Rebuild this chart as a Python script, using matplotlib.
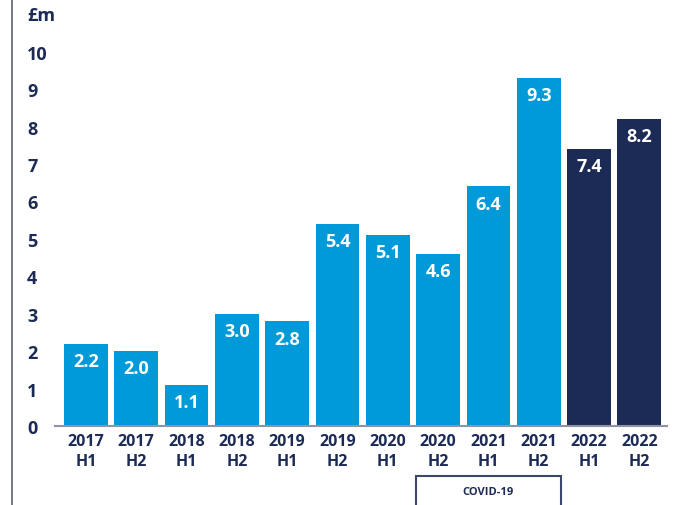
import matplotlib.pyplot as plt
from matplotlib.patches import Rectangle
import matplotlib.transforms as mtransforms

# данные
periods = ['2017\nH1', '2017\nH2', '2018\nH1', '2018\nH2', '2019\nH1', '2019\nH2',
           '2020\nH1', '2020\nH2', '2021\nH1', '2021\nH2', '2022\nH1', '2022\nH2']
values = [2.2, 2.0, 1.1, 3.0, 2.8, 5.4, 5.1, 4.6, 6.4, 9.3, 7.4, 8.2]
yticks = [0, 1, 2, 3, 4, 5, 6, 7, 8, 9, 10]

blue = '#009ad8'
navy = '#1c2a56'
colors = [blue] * 10 + [navy] * 2

plt.rcParams['font.family'] = ['Open Sans', 'DejaVu Sans']
plt.rcParams['font.weight'] = 'bold'

fig = plt.figure(figsize=(6.75, 5.06), dpi=100)
ax = fig.add_axes([55 / 675, 79 / 506, 612 / 675, (506 - 79 - 34) / 506])

x = list(range(len(values)))
bars = ax.bar(x, values, width=0.87, color=colors, zorder=2)

for b, v in zip(bars, values):
    ax.annotate(f'{v:.1f}', (b.get_x() + b.get_width() / 2, v), xytext=(0, -6),
                textcoords='offset points', ha='center', va='top',
                color='white', fontsize=13, fontweight='bold')

ax.set_xlim(-0.615, 11.55)
ax.set_ylim(0, 10.5)
ax.set_xticks(x)
ax.set_xticklabels(periods, fontsize=11.5, color=navy, fontweight='bold', linespacing=1.3)
ax.set_yticks(yticks)
ax.set_yticklabels([str(t) for t in yticks], fontsize=13, color=navy, fontweight='bold')
for lab in ax.get_yticklabels():
    lab.set_ha('left')
ax.tick_params(axis='y', length=0, pad=20)
ax.tick_params(axis='x', length=0, pad=5)

for s in ['top', 'right', 'left']:
    ax.spines[s].set_visible(False)
ax.spines['bottom'].set_color('#8e93a6')
ax.spines['bottom'].set_linewidth(1.5)

# подпись единиц
fig.text(27 / 675, 1 - 16 / 506, '£m', fontsize=13, color=navy, fontweight='bold',
         ha='left', va='center')

# вертикальная линия слева
fig.add_artist(plt.Line2D([12 / 675, 12 / 675], [0, 1], color='#5a6078', lw=1.2))

# рамка COVID-19
trans = mtransforms.blended_transform_factory(ax.transData, fig.transFigure)
left = 7 - 0.87 / 2
right = 9 + 0.87 / 2
box = Rectangle((left, -0.05), right - left, 0.05 + 29 / 506, transform=trans,
                fill=False, edgecolor='#3d4868', lw=1.5, clip_on=False)
fig.add_artist(box)
ax.text((left + right) / 2, 13 / 506, 'COVID-19', transform=trans, ha='center',
        va='center', fontsize=8, color=navy, fontweight='bold')

fig.savefig('out.png', dpi=100)
